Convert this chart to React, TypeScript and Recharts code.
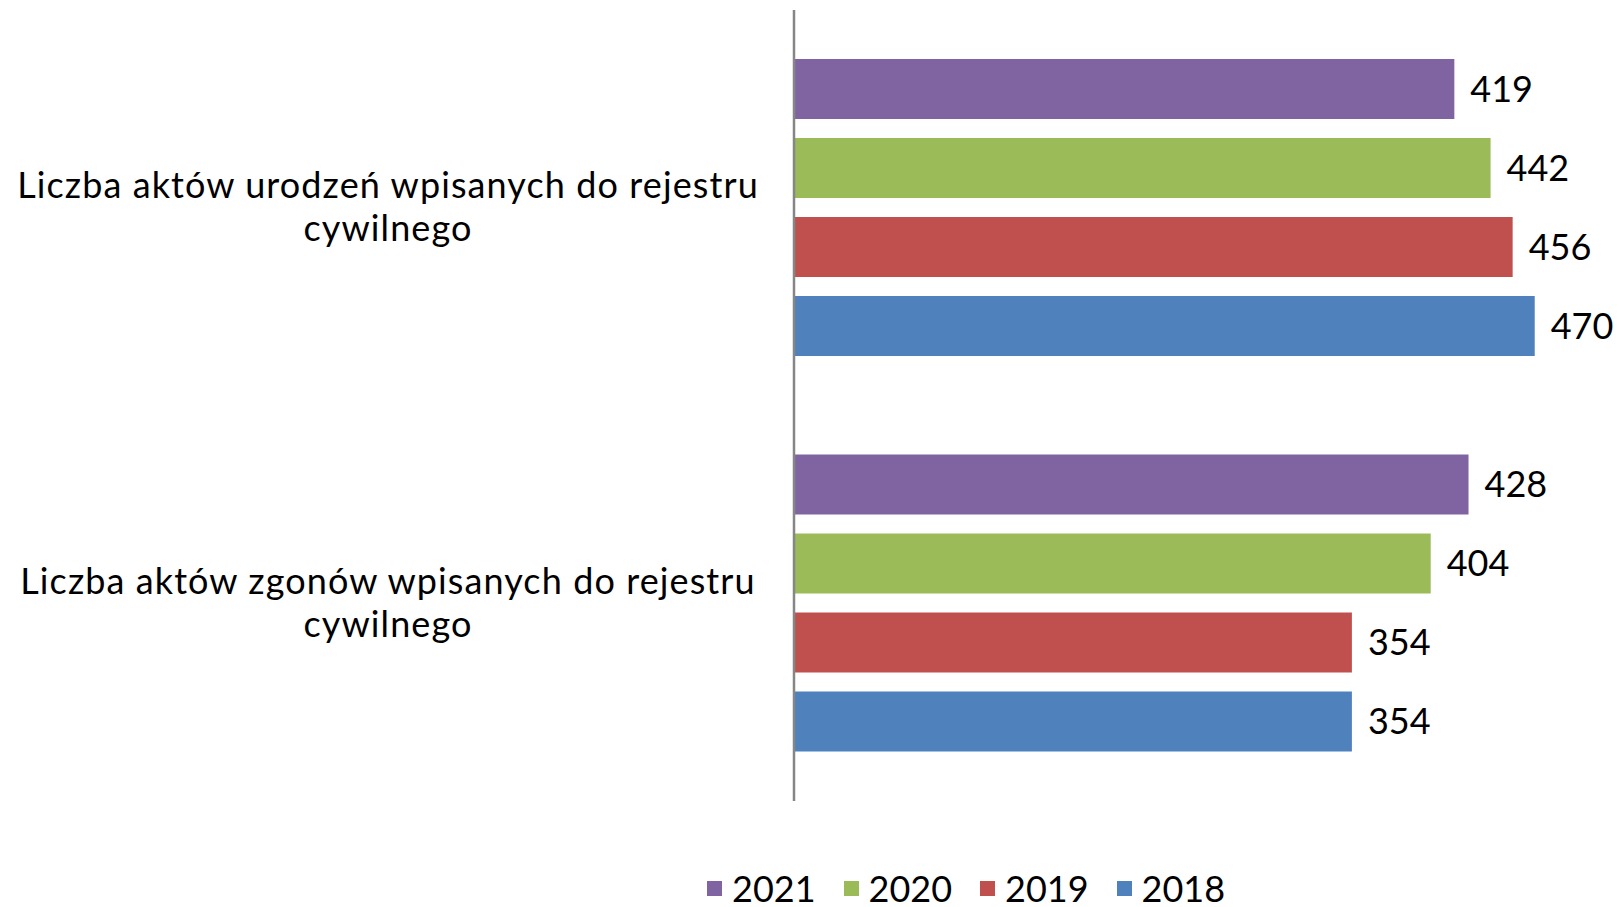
import { BarChart, Bar, XAxis, YAxis, LabelList } from 'recharts';

// category labels (two lines each, as on the slide)
const categoryLines = [
  ['Liczba aktów urodzeń wpisanych do rejestru', 'cywilnego'],
  ['Liczba aktów zgonów wpisanych do rejestru', 'cywilnego'],
];
const years = ['2021', '2020', '2019', '2018'];
const colors = ['#8064A2', '#9BBB59', '#C0504D', '#4F81BD'];

const v2021 = [419, 428];
const v2020 = [442, 404];
const v2019 = [456, 354];
const v2018 = [470, 354];
const seriesValues = [v2021, v2020, v2019, v2018];

const data = categoryLines.map((lines, i) => {
  const row: Record<string, any> = { name: lines.join(' ') };
  years.forEach((y, s) => { row[y] = seriesValues[s][i]; });
  return row;
});

const FONT = 'Lato, "Open Sans", sans-serif';

const CategoryTick = (props: any) => {
  const { y, index } = props;
  const lines = categoryLines[index] || [];
  return (
    <text x={388} y={y} textAnchor="middle" fontSize={36} fill="#000" fontFamily={FONT} letterSpacing={1.1}>
      {lines.map((l, i) => (
        <tspan key={i} x={388} dy={i === 0 ? -21.5 + 12 : 43}>{l}</tspan>
      ))}
    </text>
  );
};

export default function App() {
  return (
    <div style={{ position: 'absolute', left: 0, top: 0, width: 1619, height: 907, background: '#fff', fontFamily: FONT }}>
      <BarChart
        width={1619}
        height={907}
        data={data}
        layout="vertical"
        margin={{ top: 10, right: 37, bottom: 106, left: 0 }}
        barSize={60}
        barGap={19}
        barCategoryGap={49}
      >
        <XAxis type="number" domain={[0, 500]} hide />
        <YAxis
          type="category"
          dataKey="name"
          width={794}
          tickLine={false}
          axisLine={{ stroke: '#868686', strokeWidth: 2.5 }}
          tick={<CategoryTick />}
          interval={0}
        />
        {years.map((y, s) => (
          <Bar key={y} dataKey={y} fill={colors[s]} isAnimationActive={false}>
            <LabelList dataKey={y} position="right" offset={16} fontSize={36} fill="#000" fontFamily={FONT} />
          </Bar>
        ))}
      </BarChart>

      <div style={{ position: 'absolute', left: 707, top: 866, display: 'flex', alignItems: 'center', fontSize: 36, lineHeight: '44px', color: '#000' }}>
        {years.map((y, s) => (
          <div key={y} style={{ display: 'flex', alignItems: 'center', marginRight: 28 }}>
            <span style={{ width: 15, height: 15, background: colors[s], display: 'inline-block', marginRight: 10 }} />
            <span>{y}</span>
          </div>
        ))}
      </div>
    </div>
  );
}
